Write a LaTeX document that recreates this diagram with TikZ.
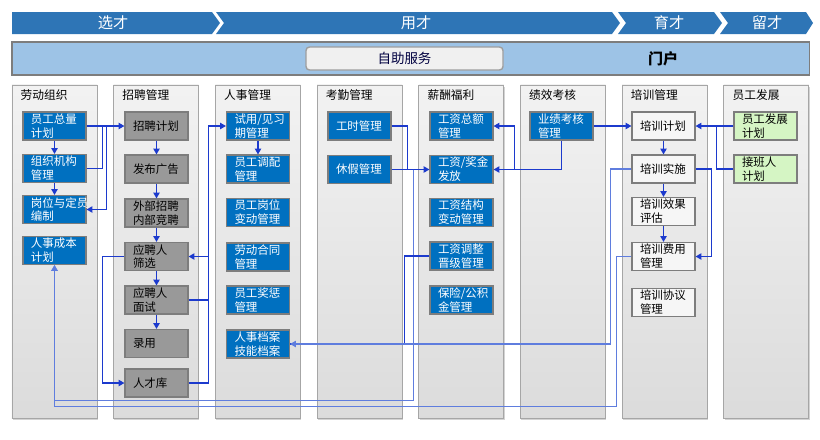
\documentclass[tikz,border=0pt]{standalone}
\usepackage{fontspec}
\setmainfont{Noto Sans CJK SC}
\usetikzlibrary{arrows.meta,shadows,calc}

\definecolor{bandblue}{RGB}{46,117,182}
\definecolor{portalblue}{RGB}{157,195,230}
\definecolor{boxblue}{RGB}{0,112,192}
\definecolor{boxgrey}{RGB}{153,153,153}
\definecolor{boxwhite}{RGB}{246,246,246}
\definecolor{boxgreen}{RGB}{213,245,196}
\definecolor{edgegrey}{RGB}{125,125,125}
\definecolor{paneledge}{RGB}{166,166,166}
\definecolor{linkblue}{RGB}{28,58,205}
\definecolor{linklight}{RGB}{95,125,222}

\tikzset{
  panel/.style={draw=paneledge, line width=0.8pt, top color=white!95!black,
    bottom color=white!86!black, minimum width=2.55cm, minimum height=9.99cm,
    drop shadow={opacity=0.35, shadow xshift=0.6pt, shadow yshift=-1.4pt}},
  coltitle/.style={anchor=west, inner sep=0pt, font=\fontsize{10}{12}\selectfont},
  box/.style={rectangle, draw=edgegrey, line width=1pt, text width=1.41cm,
    inner xsep=0.24cm, inner ysep=0pt, minimum height=0.84cm, align=left,
    font=\fontsize{9.8}{11.8}\selectfont},
  bluebox/.style={box, fill=boxblue, text=white},
  greybox/.style={box, fill=boxgrey, text=black},
  whitebox/.style={box, fill=boxwhite, text=black},
  greenbox/.style={box, fill=boxgreen, text=black},
  bandtext/.style={text=white, font=\fontsize{13}{15}\selectfont},
  link/.style={draw=linkblue, line width=0.9pt},
  arr/.style={link, -{Triangle[length=5pt,width=5.5pt]}},
  faint/.style={draw=linklight}
}

\begin{document}
\begin{tikzpicture}[x=0.03cm, y=-0.03cm]
  \useasboundingbox (0,0) rectangle (820,439);

  % stages
  \fill[bandblue] (12,12) -- (212,12) -- (220,23) -- (212,34) -- (12,34) -- cycle;
  \fill[bandblue] (216,12) -- (612,12) -- (620,23) -- (612,34) -- (216,34) -- (224,23) -- cycle;
  \fill[bandblue] (618,12) -- (714,12) -- (722,23) -- (714,34) -- (618,34) -- (626,23) -- cycle;
  \fill[bandblue] (720,12) -- (806,12) -- (813,23) -- (806,34) -- (720,34) -- (728,23) -- cycle;
  \node[bandtext] (xc) at (113,23) {选才};
  \node[bandtext] (yc) at (416,23) {用才};
  \node[bandtext] (uc) at (669,23) {育才};
  \node[bandtext] (lc) at (767,23) {留才};

  % portal
  \node[draw=edgegrey, line width=0.9pt, fill=portalblue, minimum width=23.91cm,
    minimum height=0.99cm] (mh) at (410.5,58.5) {};
  \node[draw=white!62!black, line width=1.2pt, fill=white!94!black, rounded corners=3pt,
    minimum width=5.91cm, minimum height=0.69cm, text=black!75!blue,
    font=\fontsize{11.5}{13}\selectfont] (zz) at (404.5,58.5) {自助服务};
  \node[font=\fontsize{12.8}{14}\selectfont\bfseries] (mhl) at (663,58.5) {门户};

  % columns
  \foreach \t [count=\i from 0] in {劳动组织,招聘管理,人事管理,考勤管理,薪酬福利,绩效考核,培训管理,员工发展}
  {
    \node[panel] (c\i) at ({54.5+101.7*\i},251.5) {};
    \node[coltitle] (t\i) at ({20.5+101.7*\i},95.5) {\t};
  }

  % boxes
  \node[bluebox] (zl) at (54.5,126) {员工总量\\计划};
  \node[bluebox] (jg) at (54.5,168.5) {组织机构\\管理};
  \node[bluebox] (gw) at (54.5,209.5) {岗位与定员\\编制};
  \node[bluebox] (rc) at (54.5,250.5) {人事成本\\计划};

  \node[greybox] (zp1) at (156.5,126) {招聘计划};
  \node[greybox] (zp2) at (156.5,169) {发布广告};
  \node[greybox] (zp3) at (156.5,213) {外部招聘\\内部竞聘};
  \node[greybox] (zp4) at (156.5,256.5) {应聘人\\筛选};
  \node[greybox] (zp5) at (156.5,300) {应聘人\\面试};
  \node[greybox] (zp6) at (156.5,343.5) {录用};
  \node[greybox] (zp7) at (156.5,383) {人才库};

  \node[bluebox] (rs1) at (258,126) {试用/见习\\期管理};
  \node[bluebox] (rs2) at (258,169) {员工调配\\管理};
  \node[bluebox] (rs3) at (258,212.5) {员工岗位\\变动管理};
  \node[bluebox] (rs4) at (258,257) {劳动合同\\管理};
  \node[bluebox] (rs5) at (258,300) {员工奖惩\\管理};
  \node[bluebox] (rs6) at (258,344) {人事档案\\技能档案};

  \node[bluebox] (kq1) at (359.5,126) {工时管理};
  \node[bluebox] (kq2) at (359.5,169.5) {休假管理};

  \node[bluebox] (xc1) at (461.5,126) {工资总额\\管理};
  \node[bluebox] (xc2) at (461.5,169.5) {工资/奖金\\发放};
  \node[bluebox] (xc3) at (461.5,212.5) {工资结构\\变动管理};
  \node[bluebox] (xc4) at (461.5,256) {工资调整\\晋级管理};
  \node[bluebox] (xc5) at (461.5,300) {保险/公积\\金管理};

  \node[bluebox] (jx) at (561.5,126) {业绩考核\\管理};

  \node[whitebox] (px1) at (663.5,126) {培训计划};
  \node[whitebox] (px2) at (663.5,169) {培训实施};
  \node[whitebox] (px3) at (663.5,211.5) {培训效果\\评估};
  \node[whitebox] (px4) at (663.5,256.5) {培训费用\\管理};
  \node[whitebox] (px5) at (663.5,302.5) {培训协议\\管理};

  \node[greenbox] (fz1) at (765.5,126) {员工发展\\计划};
  \node[greenbox] (fz2) at (765.5,169) {接班人\\计划};

  % links
  \draw[arr] (zl) -- (jg);
  \draw[arr] (jg) -- (gw);
  \draw[arr] (zl) -- (zp1);
  \draw[link] (jg.east) -| ($(zl.east)+(16,0)$);
  \draw[arr] ($(zl.east)+(20,0)$) |- (gw.east);

  \foreach \a/\b in {zp1/zp2,zp2/zp3,zp3/zp4,zp4/zp5,zp5/zp6}
    \draw[arr] (\a) -- (\b);
  \draw[arr] (zp4.west) -- ++(-22,0) |- (zp7.west);
  \draw[arr] (zp7.east) -- ++(20,0) |- (rs1.west);
  \draw[arr] ($(zp4.east)+(20,0)$) -- (zp4.east);
  \draw[link] (zp5.east) -- ++(20,0);

  \draw[arr] (rs1) -- (rs2);

  \draw[link] (kq1.east) -| ($(kq2.east)+(16,0)$);
  \draw[arr] (kq2) -- (xc2);
  \draw[arr, faint] ($(kq2.east)+(22,0)$) |- ($(rc.south)+(0,135)$) -- (rc.south);
  \draw[link] (xc4.west) -- ++(-25,0) |- (rs6.east);

  \draw[arr] (jx.south) |- (xc2.east);
  \draw[arr] ($(xc2.east)+(21,0)$) |- (xc1.east);
  \draw[arr] (jx) -- (px1);

  \foreach \a/\b in {px1/px2,px2/px3,px3/px4}
    \draw[arr] (\a) -- (\b);
  \draw[arr] (px2.east) -- ++(16,0) |- (px4.east);
  \draw[arr, faint] (px4.west) -- ++(-15,0) |- ($(rc.south)+(0,141)$) -- (rc.south);
  \draw[arr, faint] (px2.west) -- ++(-21,0) |- (rs6.east);

  \draw[arr] (fz1) -- (px1);
  \draw[link] (fz2.west) -| ($(fz1.west)+(-17,0)$);
\end{tikzpicture}
\end{document}
